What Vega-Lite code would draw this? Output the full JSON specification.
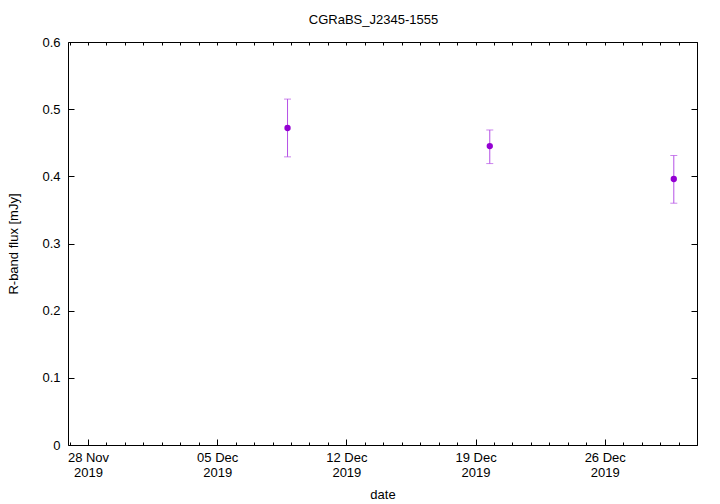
{
  "$schema": "https://vega.github.io/schema/vega-lite/v6.json",
  "width": 629,
  "height": 403,
  "autosize": {"type": "none"},
  "padding": {"left": 68, "top": 42, "right": 23, "bottom": 59},
  "background": "white",
  "config": {
    "font": "Liberation Sans",
    "view": {"stroke": "black", "strokeWidth": 1},
    "axis": {"domain": false, "grid": false, "labelFont": "Liberation Sans", "labelFontSize": 13, "labelColor": "black", "titleFont": "Liberation Sans", "titleFontSize": 13, "titleFontWeight": "normal", "titleColor": "black", "tickColor": "black"}
  },
  "title": {"text": "CGRaBS_J2345-1555", "font": "Liberation Sans", "fontSize": 13, "fontWeight": "normal", "color": "black", "offset": 9, "dx": -9},
  "data": {
    "values": [
      {"date": "2019-12-08T19:30:00Z", "flux": 0.472, "lo": 0.429, "hi": 0.515},
      {"date": "2019-12-19T18:30:00Z", "flux": 0.445, "lo": 0.419, "hi": 0.469},
      {"date": "2019-12-29T17:50:00Z", "flux": 0.396, "lo": 0.360, "hi": 0.431}
    ]
  },
  "resolve": {"axis": {"x": "independent", "y": "independent"}},
  "layer": [
    {
      "mark": {"type": "rule", "color": "#b550e6", "strokeWidth": 1},
      "encoding": {
        "x": {"field": "date", "type": "temporal",
          "scale": {"type": "utc", "domain": [{"year": 2019, "month": 11, "date": 26, "hours": 22, "utc": true}, {"year": 2019, "month": 12, "date": 31, "hours": 0, "utc": true}]},
          "axis": {"orient": "bottom", "title": "date", "titlePadding": 9,
            "values": [{"year": 2019, "month": 11, "date": 28, "utc": true}, {"year": 2019, "month": 12, "date": 5, "utc": true}, {"year": 2019, "month": 12, "date": 12, "utc": true}, {"year": 2019, "month": 12, "date": 19, "utc": true}, {"year": 2019, "month": 12, "date": 26, "utc": true}],
            "labelExpr": "[utcFormat(datum.value, '%d %b'), utcFormat(datum.value, '%Y')]",
            "tickSize": -6, "labelPadding": 12, "labelFlush": false, "labelOverlap": false}},
        "y": {"field": "lo", "type": "quantitative",
          "scale": {"domain": [0, 0.6], "nice": false, "zero": true},
          "axis": {"orient": "left", "title": "R-band flux [mJy]", "titlePadding": 21,
            "values": [0, 0.1, 0.2, 0.3, 0.4, 0.5, 0.6],
            "labelExpr": "datum.value == 0 ? '0' : format(datum.value, '.1f')",
            "tickSize": -6, "labelPadding": 14, "labelFlush": false}},
        "y2": {"field": "hi"}
      }
    },
    {
      "mark": {"type": "tick", "orient": "horizontal", "color": "#b550e6", "size": 7, "thickness": 1},
      "encoding": {
        "x": {"field": "date", "type": "temporal",
          "axis": {"orient": "bottom", "title": null, "labels": false, "tickSize": -3,
            "tickCount": {"interval": "day", "step": 1}}},
        "y": {"field": "lo", "type": "quantitative",
          "axis": {"orient": "right", "title": null, "labels": false, "tickSize": -6,
            "values": [0, 0.1, 0.2, 0.3, 0.4, 0.5, 0.6]}}
      }
    },
    {
      "mark": {"type": "tick", "orient": "horizontal", "color": "#b550e6", "size": 7, "thickness": 1},
      "encoding": {
        "x": {"field": "date", "type": "temporal",
          "axis": {"orient": "top", "title": null, "labels": false, "tickSize": -3,
            "tickCount": {"interval": "day", "step": 1}}},
        "y": {"field": "hi", "type": "quantitative", "axis": null}
      }
    },
    {
      "mark": {"type": "point", "filled": true, "color": "#9400d3", "size": 40, "opacity": 1},
      "encoding": {
        "x": {"field": "date", "type": "temporal", "axis": null},
        "y": {"field": "flux", "type": "quantitative", "axis": null}
      }
    }
  ]
}
